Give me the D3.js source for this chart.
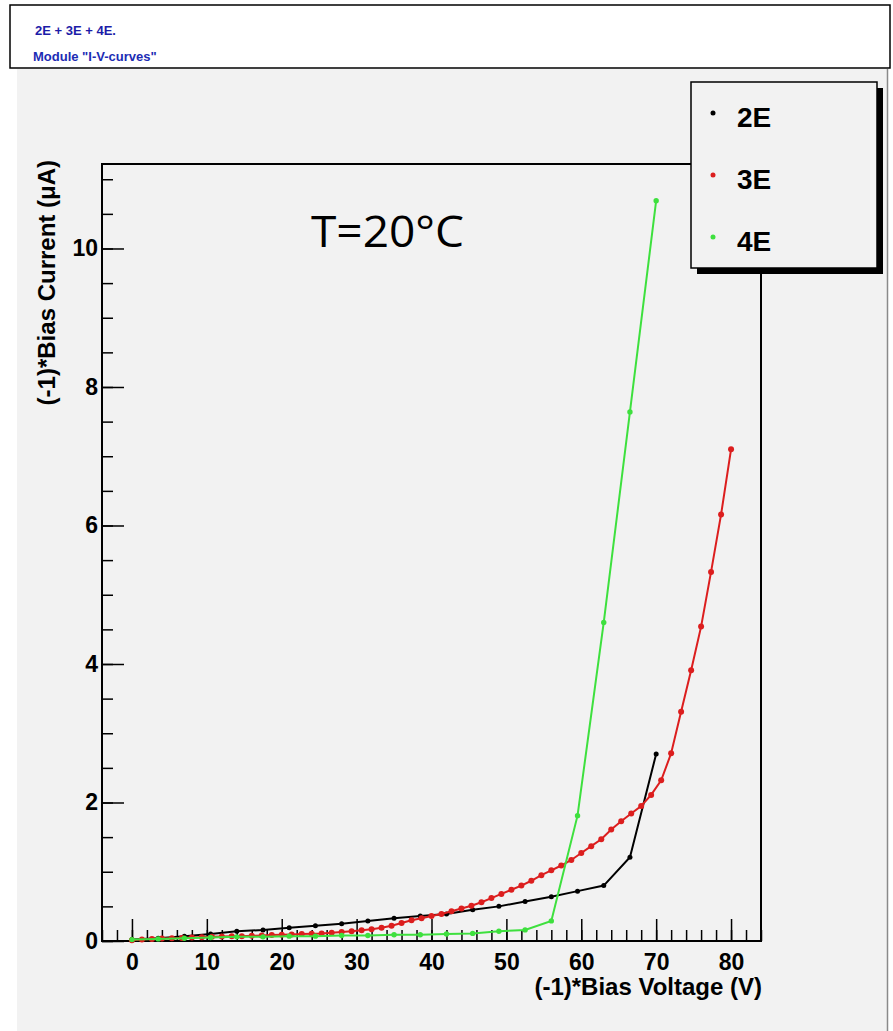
<!DOCTYPE html>
<html>
<head>
<meta charset="utf-8">
<script src="https://cdn.jsdelivr.net/npm/d3@7"></script>
<style>
  html, body { margin: 0; padding: 0; background: #ffffff; }
  svg { display: block; }
</style>
</head>
<body>
<svg id="chart" width="893" height="1031"></svg>
<script>
// ---------- data ----------
const seriesNames = ["2E", "3E", "4E"];
const seriesColors = ["#000000", "#dc1e1e", "#3ee03e"];

const voltage2E = [0, 3.5, 7, 10.5, 14, 17.5, 21, 24.5, 28, 31.5, 35, 38.5, 42, 45.5, 49, 52.5, 56, 59.5, 63, 66.5, 70];
const current2E = [0.02, 0.04, 0.07, 0.10, 0.14, 0.16, 0.19, 0.22, 0.25, 0.29, 0.33, 0.36, 0.39, 0.45, 0.50, 0.57, 0.64, 0.72, 0.80, 1.21, 2.70];

const voltage3E = [0, 1.33, 2.67, 4, 5.33, 6.67, 8, 9.33, 10.67, 12, 13.33, 14.67, 16, 17.33, 18.67, 20,
  21.33, 22.67, 24, 25.33, 26.67, 28, 29.33, 30.67, 32, 33.33, 34.67, 36, 37.33, 38.67, 40,
  41.33, 42.67, 44, 45.33, 46.67, 48, 49.33, 50.67, 52, 53.33, 54.67, 56, 57.33, 58.67, 60,
  61.33, 62.67, 64, 65.33, 66.67, 68, 69.33, 70.67, 72, 73.33, 74.67, 76, 77.33, 78.67, 80];
const current3E = [0.01, 0.02, 0.03, 0.035, 0.04, 0.045, 0.05, 0.055, 0.06, 0.065,
  0.07, 0.07, 0.075, 0.08, 0.085, 0.09, 0.095, 0.10, 0.105, 0.11,
  0.12, 0.13, 0.14, 0.155, 0.17, 0.19, 0.22, 0.26, 0.30, 0.33,
  0.36, 0.39, 0.43, 0.47, 0.51, 0.56, 0.62, 0.68, 0.74, 0.80,
  0.87, 0.95, 1.02, 1.09, 1.17, 1.27, 1.37, 1.47, 1.61, 1.73,
  1.84, 1.95, 2.11, 2.32, 2.71, 3.31, 3.91, 4.54, 5.33, 6.16, 7.10];

const voltage4E = [0, 3.5, 7, 10.5, 14, 17.5, 21, 24.5, 28, 31.5, 35, 38.5, 42, 45.5, 49, 52.5, 56, 59.5, 63, 66.5, 70];
const current4E = [0.02, 0.03, 0.04, 0.05, 0.06, 0.06, 0.07, 0.07, 0.08, 0.08, 0.09, 0.09, 0.10, 0.11, 0.14, 0.16, 0.29, 1.81, 4.60, 7.64, 10.69];

const xMajorTicks = [0, 10, 20, 30, 40, 50, 60, 70, 80];
const yMajorTicks = [0, 2, 4, 6, 8, 10];

const titleLine1 = "2E + 3E + 4E.";
const titleLine2 = "Module \"I-V-curves\"";
const xTitle = "(-1)*Bias Voltage (V)";
const yTitle = "(-1)*Bias Current (\u03bcA)";
const annotation = "T=20\u00b0C";

// ---------- layout ----------
const svg = d3.select("#chart");
const frame = { left: 102, right: 761, top: 164, bottom: 941 };
const x = d3.scaleLinear().domain([-4, 84]).range([frame.left, frame.right]);
const y = d3.scaleLinear().domain([0, 11.22]).range([frame.bottom, frame.top]);

// title pad
svg.append("rect").attr("x", 10).attr("y", 5).attr("width", 880).attr("height", 63)
  .attr("fill", "#ffffff").attr("stroke", "#000").attr("stroke-width", 1.5);
svg.append("text").attr("x", 35).attr("y", 35).text(titleLine1)
  .attr("font-family", "Liberation Sans, Arial, sans-serif").attr("font-size", 13)
  .attr("font-weight", "bold").attr("fill", "#1c1ca8");
svg.append("text").attr("x", 33).attr("y", 61).text(titleLine2)
  .attr("font-family", "Liberation Sans, Arial, sans-serif").attr("font-size", 13)
  .attr("font-weight", "bold").attr("fill", "#1c2cb4");

// canvas
svg.append("rect").attr("x", 17).attr("y", 69).attr("width", 870).attr("height", 962)
  .attr("fill", "#f2f2f2");
svg.append("line").attr("x1", 887.5).attr("x2", 887.5).attr("y1", 69).attr("y2", 1031)
  .attr("stroke", "#8a8a8a").attr("stroke-width", 1.5);

// minor ticks
const xMinor = d3.range(-4, 85, 2);
const yMinor = d3.range(0, 11.3, 0.5);

const gx = svg.append("g").attr("transform", `translate(0,${frame.bottom})`);
gx.call(d3.axisBottom(x).tickValues(xMinor).tickSizeInner(-11).tickSizeOuter(0).tickFormat(""));
gx.call(g => g.select(".domain").remove());
const gxMaj = svg.append("g").attr("transform", `translate(0,${frame.bottom})`);
gxMaj.call(d3.axisBottom(x).tickValues(xMajorTicks).tickSizeInner(-22).tickSizeOuter(0).tickPadding(13).tickFormat(d3.format("d")));
gxMaj.call(g => g.select(".domain").remove());

const gy = svg.append("g").attr("transform", `translate(${frame.left},0)`);
gy.call(d3.axisLeft(y).tickValues(yMinor).tickSizeInner(-11).tickSizeOuter(0).tickFormat(""));
gy.call(g => g.select(".domain").remove());
const gyMaj = svg.append("g").attr("transform", `translate(${frame.left},0)`);
gyMaj.call(d3.axisLeft(y).tickValues(yMajorTicks).tickSizeInner(-22).tickSizeOuter(0).tickPadding(4).tickFormat(d3.format("d")));
gyMaj.call(g => g.select(".domain").remove());

svg.selectAll(".tick line").attr("stroke", "#000").attr("stroke-width", 1.5);
svg.selectAll(".tick text").attr("font-family", "Liberation Sans, Arial, sans-serif")
  .attr("font-size", 23).attr("font-weight", "bold").attr("fill", "#000");

// frame
svg.append("rect").attr("x", frame.left).attr("y", frame.top)
  .attr("width", frame.right - frame.left).attr("height", frame.bottom - frame.top)
  .attr("fill", "none").attr("stroke", "#000").attr("stroke-width", 2);

// axis titles
svg.append("text").attr("x", frame.right + 1).attr("y", 995).attr("text-anchor", "end")
  .attr("font-family", "Liberation Sans, Arial, sans-serif").attr("font-size", 24)
  .attr("font-weight", "bold").text(xTitle);
svg.append("text").attr("transform", `translate(55,${frame.top - 4}) rotate(-90)`)
  .attr("text-anchor", "end")
  .attr("font-family", "Liberation Sans, Arial, sans-serif").attr("font-size", 24)
  .attr("font-weight", "bold").text(yTitle);

// series
const series = [
  { name: seriesNames[0], color: seriesColors[0], v: voltage2E, c: current2E, r: 2.5 },
  { name: seriesNames[1], color: seriesColors[1], v: voltage3E, c: current3E, r: 3 },
  { name: seriesNames[2], color: seriesColors[2], v: voltage4E, c: current4E, r: 2.7 }
];
const line = d3.line().x(d => x(d[0])).y(d => y(d[1]));
series.forEach(s => {
  const pts = s.v.map((v, i) => [v, s.c[i]]);
  const g = svg.append("g");
  g.append("path").datum(pts).attr("d", line).attr("fill", "none")
    .attr("stroke", s.color).attr("stroke-width", 2);
  g.selectAll("circle").data(pts).join("circle")
    .attr("cx", d => x(d[0])).attr("cy", d => y(d[1])).attr("r", s.r).attr("fill", s.color);
});

// annotation
svg.append("text").attr("x", 311).attr("y", 247).text(annotation)
  .attr("font-family", "Open Sans, Noto Sans, sans-serif").attr("font-size", 44)
  .attr("textLength", 153).attr("lengthAdjust", "spacingAndGlyphs").attr("fill", "#000");

// legend
const lg = { x: 691, y: 82, w: 186, h: 186 };
svg.append("rect").attr("x", lg.x + 6).attr("y", lg.y + 6).attr("width", lg.w).attr("height", lg.h).attr("fill", "#000");
svg.append("rect").attr("x", lg.x).attr("y", lg.y).attr("width", lg.w).attr("height", lg.h)
  .attr("fill", "#f2f2f2").attr("stroke", "#000").attr("stroke-width", 1.5);
const legendY = [113, 175, 237];
series.forEach((s, i) => {
  svg.append("circle").attr("cx", 713).attr("cy", legendY[i]).attr("r", 2.5).attr("fill", s.color);
  svg.append("text").attr("x", 737).attr("y", legendY[i] + 14).text(s.name)
    .attr("font-family", "Liberation Sans, Arial, sans-serif").attr("font-size", 28)
    .attr("font-weight", "bold").attr("fill", "#000");
});
</script>
</body>
</html>
